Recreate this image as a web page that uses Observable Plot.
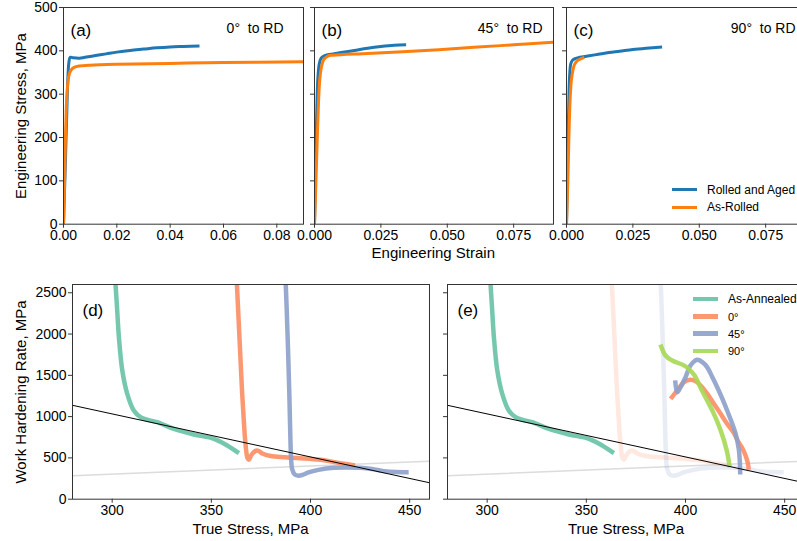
<!DOCTYPE html>
<html>
<head>
<meta charset="utf-8">
<script src="https://cdn.jsdelivr.net/npm/d3@7"></script>
<script src="https://cdn.jsdelivr.net/npm/@observablehq/plot@0.6"></script>
<style>
  body { margin: 0; background: white; overflow: hidden; }
  #fig { position: relative; width: 830px; height: 541px; overflow: hidden; font-family: 'Liberation Sans', Arial, Helvetica, sans-serif; color: #000; }
  .lbl { position: absolute; white-space: nowrap; line-height: 1; font-size: 15px; transform: translate(-50%, -50%); }
  .rot { transform: translate(-50%, -50%) rotate(-90deg); }
  .leg { position: absolute; white-space: nowrap; line-height: 1; font-size: 12px; transform: translateY(-50%); }
  .sw { position: absolute; width: 25px; }
</style>
</head>
<body>
<div id="fig"></div>
<script>
// ---------- DATA ----------
// Top panels: engineering strain vs engineering stress (MPa)
const strainTicksA = [0, 0.02, 0.04, 0.06, 0.08];
const strainTicksBC = [0, 0.025, 0.05, 0.075];
const stressTicks = [0, 100, 200, 300, 400, 500];

const rolledAged0 = [[0,0],[0.0006,120],[0.0012,250],[0.0016,330],[0.002,372],[0.0025,385],[0.0035,384],[0.006,383],[0.008,385],[0.012,389],[0.016,393],[0.02,397],[0.025,401],[0.03,404],[0.035,407],[0.04,409],[0.045,410],[0.051,411]];
const asRolled0 = [[0,0],[0.0004,100],[0.0007,190],[0.001,260],[0.0013,300],[0.0017,330],[0.0022,347],[0.003,357],[0.004,362],[0.006,365],[0.01,367],[0.02,369],[0.04,371],[0.06,373],[0.09,375]];

const rolledAged45 = [[0,0],[0.0004,120],[0.0007,220],[0.001,295],[0.0013,340],[0.0018,370],[0.0025,383],[0.0035,388],[0.005,391],[0.007,393],[0.01,396],[0.015,401],[0.02,406],[0.025,410],[0.03,413],[0.0345,414]];
const asRolled45 = [[0,0],[0.0005,90],[0.001,190],[0.0015,280],[0.002,335],[0.0027,365],[0.0035,380],[0.005,388],[0.007,390],[0.02,394],[0.04,400],[0.06,408],[0.075,414],[0.09,420]];

const rolledAged90 = [[0,0],[0.0003,100],[0.0006,200],[0.0009,290],[0.0012,345],[0.0016,370],[0.0022,378],[0.0032,382],[0.005,385],[0.008,388],[0.012,392],[0.016,396],[0.02,399],[0.025,403],[0.03,406],[0.036,409]];
const asRolled90 = [[0,0],[0.0005,100],[0.0009,200],[0.0013,280],[0.0018,330],[0.0024,355],[0.003,368],[0.004,377],[0.0055,382],[0.0067,385]];

// Bottom panels: true stress (MPa) vs work hardening rate (MPa)
const trueStressTicks = [300, 350, 400, 450];
const whrTicks = [0, 500, 1000, 1500, 2000, 2500];

const asAnnealed = [[301.2,2800],[301.7,2600],[302.5,2300],[303.4,1960],[305.1,1560],[307.6,1276],[310.9,1074],[314.3,993],[318,960],[322.7,933],[331.1,852],[341.2,784],[351.3,731],[358,650],[363.9,557]];
const aged0 = [[362.5,2800],[363.5,2300],[364.5,1800],[365.5,1300],[366.5,900],[367.3,650],[368.2,500],[368.9,477],[370.3,540],[373,590],[376,550],[380,522],[387,508],[395,497],[405,477],[415,436],[422.5,408]];
const aged45 = [[387.2,2800],[388,2300],[388.7,1800],[389.3,1300],[389.8,800],[390.2,500],[390.8,360],[392,300],[394,285],[396,295],[399,325],[404,355],[411.7,380],[418,385],[425,380],[431,365],[437,340],[443,328],[449.5,327]];

const e0 = [[392.5,1216],[395.8,1316],[399.2,1417],[402.5,1446],[405,1430],[407.6,1377],[411,1276],[414.3,1155],[417.7,1034],[421,913],[424.4,800],[426.5,700],[428.6,620],[430.4,520],[431.4,440],[431.9,356]];
const e45 = [[394.8,1440],[395.8,1296],[397.5,1356],[400,1477],[402.5,1619],[405.9,1688],[408.5,1660],[410.9,1599],[413.5,1480],[416,1356],[418.5,1220],[421,1074],[425.2,800],[426.9,600],[427.4,450],[427.6,299]];
const e90 = [[387.4,1873],[389.9,1740],[393.3,1680],[399.2,1620],[402,1570],[404.5,1500],[408.3,1316],[413.8,1060],[417.8,830],[420.8,590],[422.3,388]];

const fitX = [280, 460];
const fitY = [1137, 199];
const greyX = [280, 460];
const greyY = [284, 461];

// ---------- DRAWING ----------
const fig = document.getElementById("fig");
const FONT = "'Liberation Sans', Arial, Helvetica, sans-serif";
const blue = "#1f77b4", orange = "#ff7f0e";
const cGreen = "#66c2a5", cOrange = "#fc8d62", cBlue = "#8da0cb", cLime = "#a6d854";

function ln(data, stroke, width, extra = {}) {
  return Plot.line(data, {x: d => d[0], y: d => d[1], stroke, strokeWidth: width, curve: "catmull-rom", clip: true, strokeLinecap: "butt", ...extra});
}
function straight(xs, ys, stroke, width, extra = {}) {
  return Plot.line(xs.map((x, i) => [x, ys[i]]), {x: d => d[0], y: d => d[1], stroke, strokeWidth: width, clip: true, ...extra});
}

function panel({frame, xDomain, yDomain, xTicks, xFmt, yTicks, yFmt, marks}) {
  const [fl, ft, fw, fh] = frame;
  const mL = 50, mR = 10, mT = 10, mB = 30;
  const svg = Plot.plot({
    width: mL + fw + mR, height: mT + fh + mB,
    marginLeft: mL, marginRight: mR, marginTop: mT, marginBottom: mB,
    x: {domain: xDomain}, y: {domain: yDomain},
    style: {fontFamily: FONT, fontSize: "14px", background: "transparent", overflow: "visible", color: "#000"},
    marks: [
      ...marks,
      Plot.frame({stroke: "#333", strokeWidth: 1}),
      Plot.axisX({ticks: xTicks, tickFormat: xFmt, tickSize: 4, tickPadding: 2, fontSize: 14, label: null, stroke: "#333", fill: "#000"}),
      Plot.axisY({ticks: yTicks, tickFormat: yFmt, tickSize: 4, tickPadding: 2, fontSize: 14, label: null, stroke: "#333", fill: "#000"})
    ]
  });
  svg.style.position = "absolute";
  svg.style.left = (fl - mL) + "px";
  svg.style.top = (ft - mT) + "px";
  svg.style.maxWidth = "none";
  fig.appendChild(svg);
}

function tag(text, dx, dy, size, anchor = "top-left", textAnchor = "start") {
  return Plot.text([text], {frameAnchor: anchor, text: d => d, dx, dy, fontSize: size, textAnchor, fill: "#000"});
}

const none = () => "";
const f2 = d3.format(".2f"), f3 = d3.format(".3f"), f0 = d3.format("d");
const topY = 7.3, topH = 216.7;

panel({frame: [62.7, topY, 240, topH], xDomain: [0, 0.09], yDomain: [0, 500],
  xTicks: strainTicksA, xFmt: f2, yTicks: stressTicks, yFmt: f0,
  marks: [ln(rolledAged0, blue, 3), ln(asRolled0, orange, 3),
          tag("(a)", 7, 16, 17), tag("0°\u00a0 to RD", -20, 16, 14, "top-right", "end")]});
panel({frame: [314.3, topY, 239, topH], xDomain: [0, 0.09], yDomain: [0, 500],
  xTicks: strainTicksBC, xFmt: f3, yTicks: stressTicks, yFmt: none,
  marks: [ln(rolledAged45, blue, 3), ln(asRolled45, orange, 3),
          tag("(b)", 7, 16, 17), tag("45°\u00a0 to RD", -11, 16, 14, "top-right", "end")]});
panel({frame: [566, topY, 239, topH], xDomain: [0, 0.09], yDomain: [0, 500],
  xTicks: strainTicksBC, xFmt: f3, yTicks: stressTicks, yFmt: none,
  marks: [ln(rolledAged90, blue, 3), ln(asRolled90, orange, 3),
          tag("(c)", 7, 16, 17), tag("90°\u00a0 to RD", -10, 16, 14, "top-right", "end")]});

const botY = 284, botH = 214.7;
const op = 0.9;
panel({frame: [72, botY, 357, botH], xDomain: [280, 460], yDomain: [0, 2600],
  xTicks: trueStressTicks, xFmt: f0, yTicks: whrTicks, yFmt: f0,
  marks: [straight(greyX, greyY, "#dcdcdc", 1.5),
          ln(asAnnealed, cGreen, 4.5, {strokeOpacity: op}),
          ln(aged0, cOrange, 4.5, {strokeOpacity: op}),
          ln(aged45, cBlue, 4.5, {strokeOpacity: op}),
          straight(fitX, fitY, "#000", 1),
          tag("(d)", 10, 19, 17)]});
panel({frame: [447, botY, 357, botH], xDomain: [280, 460], yDomain: [0, 2600],
  xTicks: trueStressTicks, xFmt: f0, yTicks: whrTicks, yFmt: none,
  marks: [straight(greyX, greyY, "#dcdcdc", 1.5),
          ln(aged0, cOrange, 4.5, {strokeOpacity: 0.2}),
          ln(aged45, cBlue, 4.5, {strokeOpacity: 0.2}),
          ln(asAnnealed, cGreen, 4.5, {strokeOpacity: op}),
          ln(e0, cOrange, 4.5, {strokeOpacity: op}),
          ln(e45, cBlue, 4.5, {strokeOpacity: op}),
          ln(e90, cLime, 4.5, {strokeOpacity: op}),
          straight(fitX, fitY, "#000", 1),
          tag("(e)", 10, 19, 17)]});

// ---------- axis titles & legends (HTML text) ----------
function label(text, x, y, cls = "lbl", size = 15) {
  const d = document.createElement("div");
  d.className = cls;
  d.textContent = text;
  d.style.left = x + "px"; d.style.top = y + "px"; d.style.fontSize = size + "px";
  fig.appendChild(d);
}
label("Engineering Stress, MPa", 20, 115.5, "lbl rot");
label("Engineering Strain", 433.3, 252);
label("Work Hardening Rate, MPa", 20, 391.5, "lbl rot");
label("True Stress, MPa", 250.5, 527.5);
label("True Stress, MPa", 626, 527.5);

function legendRow(text, color, x, y, thick, size, opacity = 1) {
  const s = document.createElement("div");
  s.className = "sw";
  s.style.left = x + "px"; s.style.top = (y - thick / 2) + "px";
  s.style.height = thick + "px"; s.style.background = color; s.style.opacity = opacity;
  fig.appendChild(s);
  label(text, x + 35, y, "leg", size);
}
legendRow("Rolled and Aged", blue, 672, 189.5, 3, 12);
legendRow("As-Rolled", orange, 672, 207, 3, 12);
legendRow("As-Annealed", cGreen, 693, 299, 4.5, 12, op);
legendRow("0°", cOrange, 693, 316.7, 4.5, 11, op);
legendRow("45°", cBlue, 693, 333.5, 4.5, 11, op);
legendRow("90°", cLime, 693, 351, 4.5, 11, op);
</script>
</body>
</html>
